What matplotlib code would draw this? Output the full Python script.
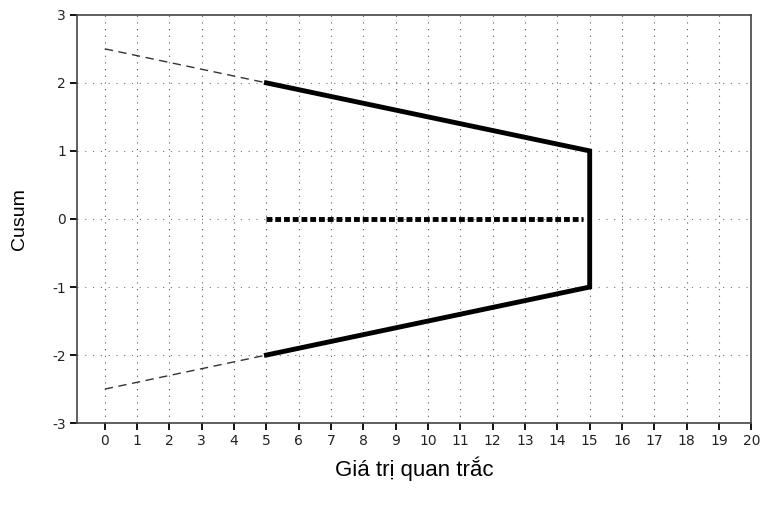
import matplotlib
matplotlib.use('Agg')
import matplotlib.pyplot as plt
import numpy as np

plt.rcParams['axes.unicode_minus'] = False

# mask arms (observation index vs cusum value)
arm_x = [5, 15, 15, 5]
arm_y = [2, 1, -1, -2]
upper_ext_x = [0, 5]
upper_ext_y = [2.5, 2]
lower_ext_x = [0, 5]
lower_ext_y = [-2.5, -2]
center_x = [5, 14.8]
center_y = [0, 0]

xticks = list(range(0, 21))
yticks = [-3, -2, -1, 0, 1, 2, 3]

fig = plt.figure(figsize=(7.62, 5.11), dpi=100)
ax = fig.add_axes([0.101, 0.172, 0.885, 0.799])

# dotted grid
for gx in range(0, 20):
    ax.axvline(gx, color='#555555', linestyle=(0, (1, 5)), linewidth=0.8, zorder=0)
for gy in [-2, -1, 0, 1, 2]:
    ax.axhline(gy, color='#777777', linestyle=(0, (1, 6)), linewidth=0.8, zorder=0)

ax.plot(upper_ext_x, upper_ext_y, color='#333333', linestyle=(0, (6, 4)), linewidth=1.0)
ax.plot(lower_ext_x, lower_ext_y, color='#333333', linestyle=(0, (6, 4)), linewidth=1.0)
ax.plot(arm_x, arm_y, color='black', linewidth=3.5, solid_joinstyle='miter')
ax.plot(center_x, center_y, color='black', linewidth=3.5, linestyle=(0, (1.2, 0.6)))

ax.set_xlim(-0.86, 20)
ax.set_ylim(-3, 3)
ax.set_xticks(xticks)
ax.set_yticks(yticks)
ax.tick_params(labelsize=10, length=5, width=1.3, direction='out', pad=3)
for lbl in ax.get_xticklabels() + ax.get_yticklabels():
    lbl.set_color('#222222')
for side in ['left', 'bottom', 'top', 'right']:
    ax.spines[side].set_color('#444444')
    ax.spines[side].set_linewidth(1.2)

ax.set_xlabel('Giá trị quan trắc', fontsize=16, family='Liberation Sans', labelpad=6)
ax.set_ylabel('Cusum', fontsize=14, family='Liberation Sans', labelpad=17)

fig.savefig('out.png', dpi=100)
